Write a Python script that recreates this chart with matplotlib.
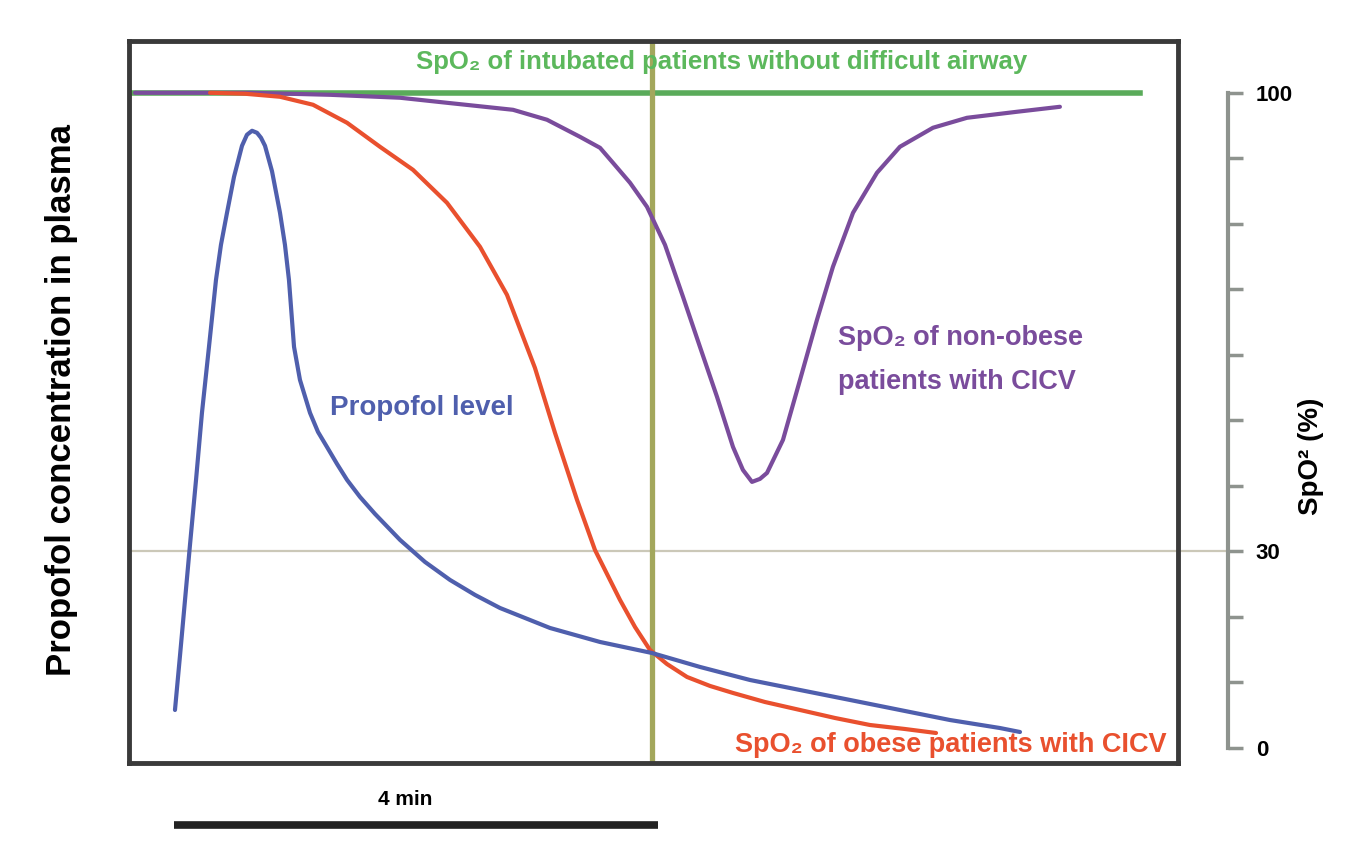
import matplotlib.pyplot as plt
import numpy as np

plt.rcParams['font.family'] = ['Liberation Sans', 'DejaVu Sans']
plt.rcParams['font.weight'] = 'bold'

# time in minutes, levels on the SpO2 scale (0-100)
propofol_t = [0.008, 0.050, 0.091, 0.132, 0.182, 0.231, 0.289, 0.347, 0.388, 0.438,
              0.496, 0.562, 0.603, 0.645, 0.686, 0.719, 0.752, 0.810, 0.876, 0.917,
              0.950, 0.992, 1.041, 1.124, 1.190, 1.264, 1.347, 1.430, 1.537, 1.661,
              1.868, 2.074, 2.281, 2.488, 2.694, 3.107, 3.521, 3.950, 4.347, 4.760,
              5.174, 5.587, 6.000, 6.413, 6.826, 6.992]
propofol_v = [5.80, 14.20, 22.60, 30.99, 40.92, 51.15, 61.22, 71.45, 76.79, 81.68,
              87.18, 91.91, 93.59, 94.20, 93.89, 93.13, 91.91, 88.02, 81.68, 76.79,
              71.45, 61.22, 56.18, 51.15, 48.24, 45.95, 43.36, 40.92, 38.32, 35.73,
              31.76, 28.40, 25.65, 23.36, 21.37, 18.32, 16.18, 14.50, 12.37, 10.38,
              8.85, 7.33, 5.80, 4.27, 3.05, 2.44]

obese_t = [0.298, 0.587, 0.876, 1.149, 1.430, 1.702, 1.975, 2.256, 2.529, 2.752,
           2.983, 3.149, 3.331, 3.479, 3.686, 3.810, 3.934, 4.074, 4.240, 4.430,
           4.620, 4.884, 5.174, 5.463, 5.752, 6.041, 6.298]
obese_v = [100.0, 99.85, 99.39, 98.17, 95.42, 91.76, 88.24, 83.21, 76.49, 69.16,
           58.02, 48.09, 37.86, 30.23, 22.60, 18.47, 14.96, 12.82, 10.84, 9.47,
           8.40, 7.02, 5.80, 4.58, 3.51, 2.90, 2.29]

nonobese_t = [-0.322, 0.628, 1.289, 1.868, 2.256, 2.802, 3.083, 3.355, 3.521, 3.628,
              3.769, 3.909, 4.058, 4.207, 4.347, 4.488, 4.620, 4.702, 4.777, 4.843,
              4.901, 5.033, 5.174, 5.314, 5.446, 5.612, 5.810, 6.000, 6.273, 6.554,
              6.967, 7.322]
nonobese_v = [100.0, 100.0, 99.69, 99.24, 98.47, 97.40, 95.88, 93.28, 91.60, 89.31,
              86.26, 82.60, 76.79, 68.85, 61.22, 53.59, 45.95, 42.44, 40.61, 41.07,
              41.98, 47.02, 56.18, 65.34, 73.44, 81.68, 87.79, 91.76, 94.66, 96.18,
              97.10, 97.86]

intubated_level = 100
intubated_end = 7.98
threshold = 30
event_t = 3.95
scale_bar_min = 4

spo2_ticks = list(range(0, 101, 10))
spo2_labels = ['0', '', '', '30', '', '', '', '', '', '', '100']

blue = '#4f5fad'
red = '#e9502e'
purple = '#7a4c9c'
green = '#5aab5a'
olive = '#a3a75c'

fig = plt.figure(figsize=(13.45, 8.5), dpi=100)
ax = fig.add_axes([129 / 1345, 87 / 850, 1049 / 1345, 722 / 850])
ax.set_xlim(-0.372, 8.298)
ax.set_ylim(-2.29, 107.9)
ax.set_xticks([])
ax.set_yticks([])
for s in ax.spines.values():
    s.set_linewidth(3.5)
    s.set_color('#3a3a3a')

# reference lines
ax.axhline(threshold, xmin=0, xmax=(1228 - 129) / 1049, color='#cbc8b8', lw=1.6,
           clip_on=False, zorder=1)
ax.plot([-0.372, intubated_end], [intubated_level, intubated_level], color=green,
        lw=4, zorder=2)
ax.axvline(event_t, color=olive, lw=3.8, zorder=2)

kw = dict(lw=3, solid_joinstyle='round', solid_capstyle='round')
ax.plot(nonobese_t, nonobese_v, color=purple, zorder=3, **kw)
ax.plot(obese_t, obese_v, color=red, zorder=4, **kw)
ax.plot(propofol_t, propofol_v, color=blue, zorder=5, **kw)

ax.text(4.53, 104.7, 'SpO₂ of intubated patients without difficult airway',
        color='#5cb85c', fontsize=18.5, ha='center', va='center')
ax.text(1.29, 51.9, 'Propofol level', color=blue, fontsize=20, ha='left', va='center')
ax.text(5.49, 59.2, 'SpO₂ of non-obese\npatients with CICV', color=purple,
        fontsize=19.5, ha='left', va='center', linespacing=1.9)
ax.text(4.64, 0.5, 'SpO₂ of obese patients with CICV', color=red, fontsize=19.5,
        ha='left', va='center')

# 4 min scale bar
ax.plot([0, scale_bar_min], [-11.76, -11.76], color='#222222', lw=5.5,
        solid_capstyle='butt', clip_on=False)
ax.text(1.91, -7.9, '4 min', fontsize=15, ha='center', va='center')

# SpO2 scale on the right
ax2 = fig.add_axes([1200 / 1345, 87 / 850, 28 / 1345, 722 / 850])
ax2.set_ylim(-2.29, 107.9)
ax2.patch.set_alpha(0)
for k in ['left', 'top', 'bottom']:
    ax2.spines[k].set_visible(False)
ax2.spines['right'].set_bounds(0, 100)
ax2.spines['right'].set_color('#8e938e')
ax2.spines['right'].set_linewidth(3)
ax2.set_xticks([])
ax2.yaxis.tick_right()
ax2.set_yticks(spo2_ticks)
ax2.set_yticklabels(spo2_labels)
ax2.tick_params(axis='y', length=11, width=2.5, color='#8e938e', labelsize=16, pad=9)

fig.text(1311 / 1345, 1 - 456 / 850, 'SpO² (%)', rotation=90, fontsize=20,
         ha='center', va='center')
fig.text(62 / 1345, 1 - 400 / 850, 'Propofol concentration in plasma', rotation=90,
         fontsize=25, ha='center', va='center')

fig.savefig('out.png', dpi=100, facecolor='white')
